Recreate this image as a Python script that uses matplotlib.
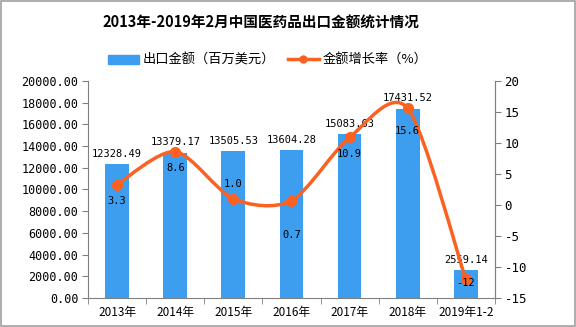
import matplotlib
matplotlib.use("Agg")
import matplotlib.pyplot as plt
from matplotlib.path import Path
from matplotlib.patches import PathPatch, Rectangle
from matplotlib.lines import Line2D
from matplotlib.patches import Patch

plt.rcParams['font.family'] = ['Noto Sans CJK SC', 'DejaVu Sans']

# data
years = ["2013年", "2014年", "2015年", "2016年", "2017年", "2018年", "2019年1-2"]
amount = [12328.49, 13379.17, 13505.53, 13604.28, 15083.63, 17431.52, 2559.14]
growth = [3.3, 8.6, 1.0, 0.7, 10.9, 15.6, -12]
growth_text = ["3.3", "8.6", "1.0", "0.7", "10.9", "15.6", "-12"]
# label offsets in points (growth labels)
growth_dy = [-12, -12, 11, -25, -12, -16, -3]

bar_color = "#3d9ef0"
line_color = "#fb6120"
num_font = ["DejaVu Sans Mono", "Noto Sans CJK SC"]

fig = plt.figure(figsize=(5.76, 3.27), dpi=100)
fig.patches.append(Rectangle((0.001, 0.002), 0.997, 0.995, transform=fig.transFigure,
                             fill=False, edgecolor="#a0a0a0", lw=1.2))

ax = fig.add_axes([0.153, 0.089, 0.706, 0.663])
x = list(range(len(years)))
ax.bar(x, amount, width=0.41, color=bar_color, zorder=2)
ax.set_xlim(-0.5, len(years) - 0.5)
ax.set_ylim(0, 20000)
ax.set_yticks(range(0, 20001, 2000))
ax.set_yticklabels(["%.2f" % v for v in range(0, 20001, 2000)], family=num_font, fontsize=8.5)
ax.set_xticks(x)
ax.set_xticklabels(years, fontsize=8.5)
ax.tick_params(axis="x", length=0, pad=6)
ax.set_xticks([i + 0.5 for i in x[:-1]] + [-0.5, len(years) - 0.5], minor=True)
ax.tick_params(axis="x", which="minor", length=4, color="#808080")
ax.tick_params(axis="y", length=4, color="#808080", pad=3)
ax.spines["top"].set_visible(False)
for s in ["left", "bottom", "right"]:
    ax.spines[s].set_color("#808080")

for i, v in enumerate(amount):
    ax.annotate("%.2f" % v, (i, v), xytext=(0, 4), textcoords="offset points",
                ha="center", va="bottom", family=num_font, fontsize=7.5)

ax2 = ax.twinx()
ax2.set_ylim(-15, 20)
ax2.set_yticks(range(-15, 21, 5))
ax2.set_yticklabels([str(v) for v in range(-15, 21, 5)], family=num_font, fontsize=9)
ax2.tick_params(axis="y", length=4, color="#808080", pad=3)
ax2.spines["top"].set_visible(False)
ax2.spines["right"].set_color("#808080")
ax2.spines["left"].set_visible(False)
ax2.spines["bottom"].set_visible(False)

# smooth line through the points (Catmull-Rom as cubic Bezier)
pts = list(zip(x, growth))
verts = [pts[0]]
codes = [Path.MOVETO]
k = 0.85 / 6
for i in range(len(pts) - 1):
    p0 = pts[i - 1] if i > 0 else pts[i]
    p1 = pts[i]
    p2 = pts[i + 1]
    p3 = pts[i + 2] if i + 2 < len(pts) else pts[i + 1]
    c1 = (p1[0] + (p2[0] - p0[0]) * k, p1[1] + (p2[1] - p0[1]) * k)
    c2 = (p2[0] - (p3[0] - p1[0]) * k, p2[1] - (p3[1] - p1[1]) * k)
    verts += [c1, c2, p2]
    codes += [Path.CURVE4] * 3
ax2.add_patch(PathPatch(Path(verts, codes), fill=False, edgecolor=line_color, lw=2.5, zorder=3))
ax2.plot(x, growth, "o", color=line_color, markersize=7, zorder=4)

for i, v in enumerate(growth):
    ax2.annotate(growth_text[i], (i, v), xytext=(0, growth_dy[i]), textcoords="offset points",
                 ha="center", va="center", family=num_font, fontsize=7.5, zorder=5)

fig.text(0.453, 0.93, "2013年-2019年2月中国医药品出口金额统计情况", ha="center", va="center",
         fontsize=10.5, fontweight="bold")

handles = [Patch(color=bar_color), Line2D([0], [0], color=line_color, lw=2.5, marker="o", markersize=5)]
fig.legend(handles, ["出口金额（百万美元）", "金额增长率（%）"], loc="center", bbox_to_anchor=(0.465, 0.815),
           ncol=2, frameon=False, fontsize=9.5, handlelength=2.3, handleheight=0.7,
           columnspacing=1.0, handletextpad=0.3)

fig.savefig("out.png", dpi=100)
